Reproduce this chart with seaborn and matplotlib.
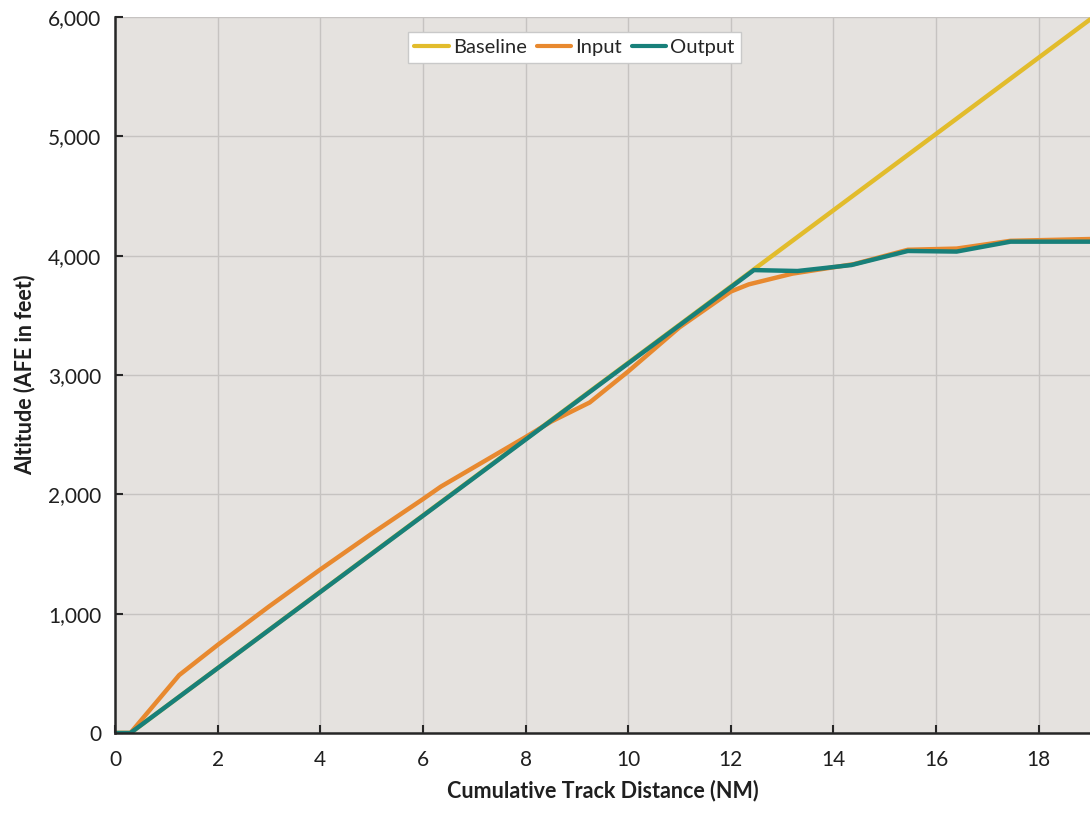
"""
Altitude profile: baseline vs input vs output along cumulative track distance
"""
import pandas as pd
import matplotlib
matplotlib.use("Agg")
import matplotlib.pyplot as plt
import seaborn as sns
from matplotlib.ticker import FuncFormatter

# --- data ---
baseline_nm = [0, 0.3, 19.0]
baseline_ft = [0, 0, 5980]

input_nm = [0, 0.3, 1.25, 2, 3, 4, 5, 6, 6.35, 8, 8.5, 9.25, 10, 11, 12,
            12.35, 13.2, 14.4, 15.45, 16.4, 17.45, 19.0]
input_ft = [0, 0, 485, 738, 1060, 1370, 1670, 1960, 2065, 2480, 2610,
            2770, 3030, 3400, 3700, 3760, 3850, 3930, 4050, 4060, 4125, 4140]

output_nm = [0, 0.3, 12.45, 13.3, 14.35, 15.45, 16.4, 17.45, 19.0]
output_ft = [0, 0, 3880, 3872, 3922, 4040, 4035, 4118, 4118]

series_names = ["Baseline", "Input", "Output"]
series_colors = ["#E2BC2C", "#E8892F", "#18807A"]

x_ticks = list(range(0, 20, 2))
y_ticks = list(range(0, 7000, 1000))

frames = []
for name, xs, ys in zip(series_names,
                        [baseline_nm, input_nm, output_nm],
                        [baseline_ft, input_ft, output_ft]):
    frames.append(pd.DataFrame({"nm": xs, "ft": ys, "series": name}))
df = pd.concat(frames, ignore_index=True)

sns.set_theme(style="whitegrid")
plt.rcParams["font.family"] = ["Lato", "DejaVu Sans"]

fig = plt.figure(figsize=(10.9, 8.15), dpi=100)
ax = fig.add_axes([0.1055, 0.1006, 0.8945, 0.8784])
ax.set_facecolor("#E5E2DF")

sns.lineplot(data=df, x="nm", y="ft", hue="series", hue_order=series_names,
             palette=dict(zip(series_names, series_colors)), sort=False,
             estimator=None, linewidth=3.2, ax=ax)

ax.set_xlim(0, 19)
ax.set_ylim(0, 6000)
ax.set_xticks(x_ticks)
ax.set_yticks(y_ticks)
ax.yaxis.set_major_formatter(FuncFormatter(lambda v, _: f"{int(v):,}"))

ax.grid(True, color="#C6C3C1", linewidth=1.0)
for side in ["top", "right"]:
    ax.spines[side].set_visible(False)
for side in ["left", "bottom"]:
    ax.spines[side].set_visible(True)
    ax.spines[side].set_color("#262626")
    ax.spines[side].set_linewidth(1.8)

ax.tick_params(axis="both", direction="in", length=6, width=1.5,
               color="#262626", labelsize=15, labelcolor="#1F1F1F", pad=12)
ax.tick_params(axis="y", left=True, pad=10)
ax.tick_params(axis="x", bottom=True)

ax.set_xlabel("Cumulative Track Distance (NM)", fontsize=15.5, fontweight="bold",
              color="#1F1F1F", labelpad=7)
ax.set_ylabel("Altitude (AFE in feet)", fontsize=15.5, fontweight="bold",
              color="#1F1F1F", labelpad=9)

leg = ax.legend(loc="upper left", bbox_to_anchor=(0.29, 0.993), ncol=3,
                fontsize=14.5, frameon=True, fancybox=False, handlelength=1.7,
                handletextpad=0.2, columnspacing=0.5, borderpad=0.33)
leg.get_frame().set_facecolor("white")
leg.get_frame().set_edgecolor("#C9C9C9")
leg.get_frame().set_alpha(1)
for line in leg.get_lines():
    line.set_linewidth(3)

fig.savefig("out.png", dpi=100)
